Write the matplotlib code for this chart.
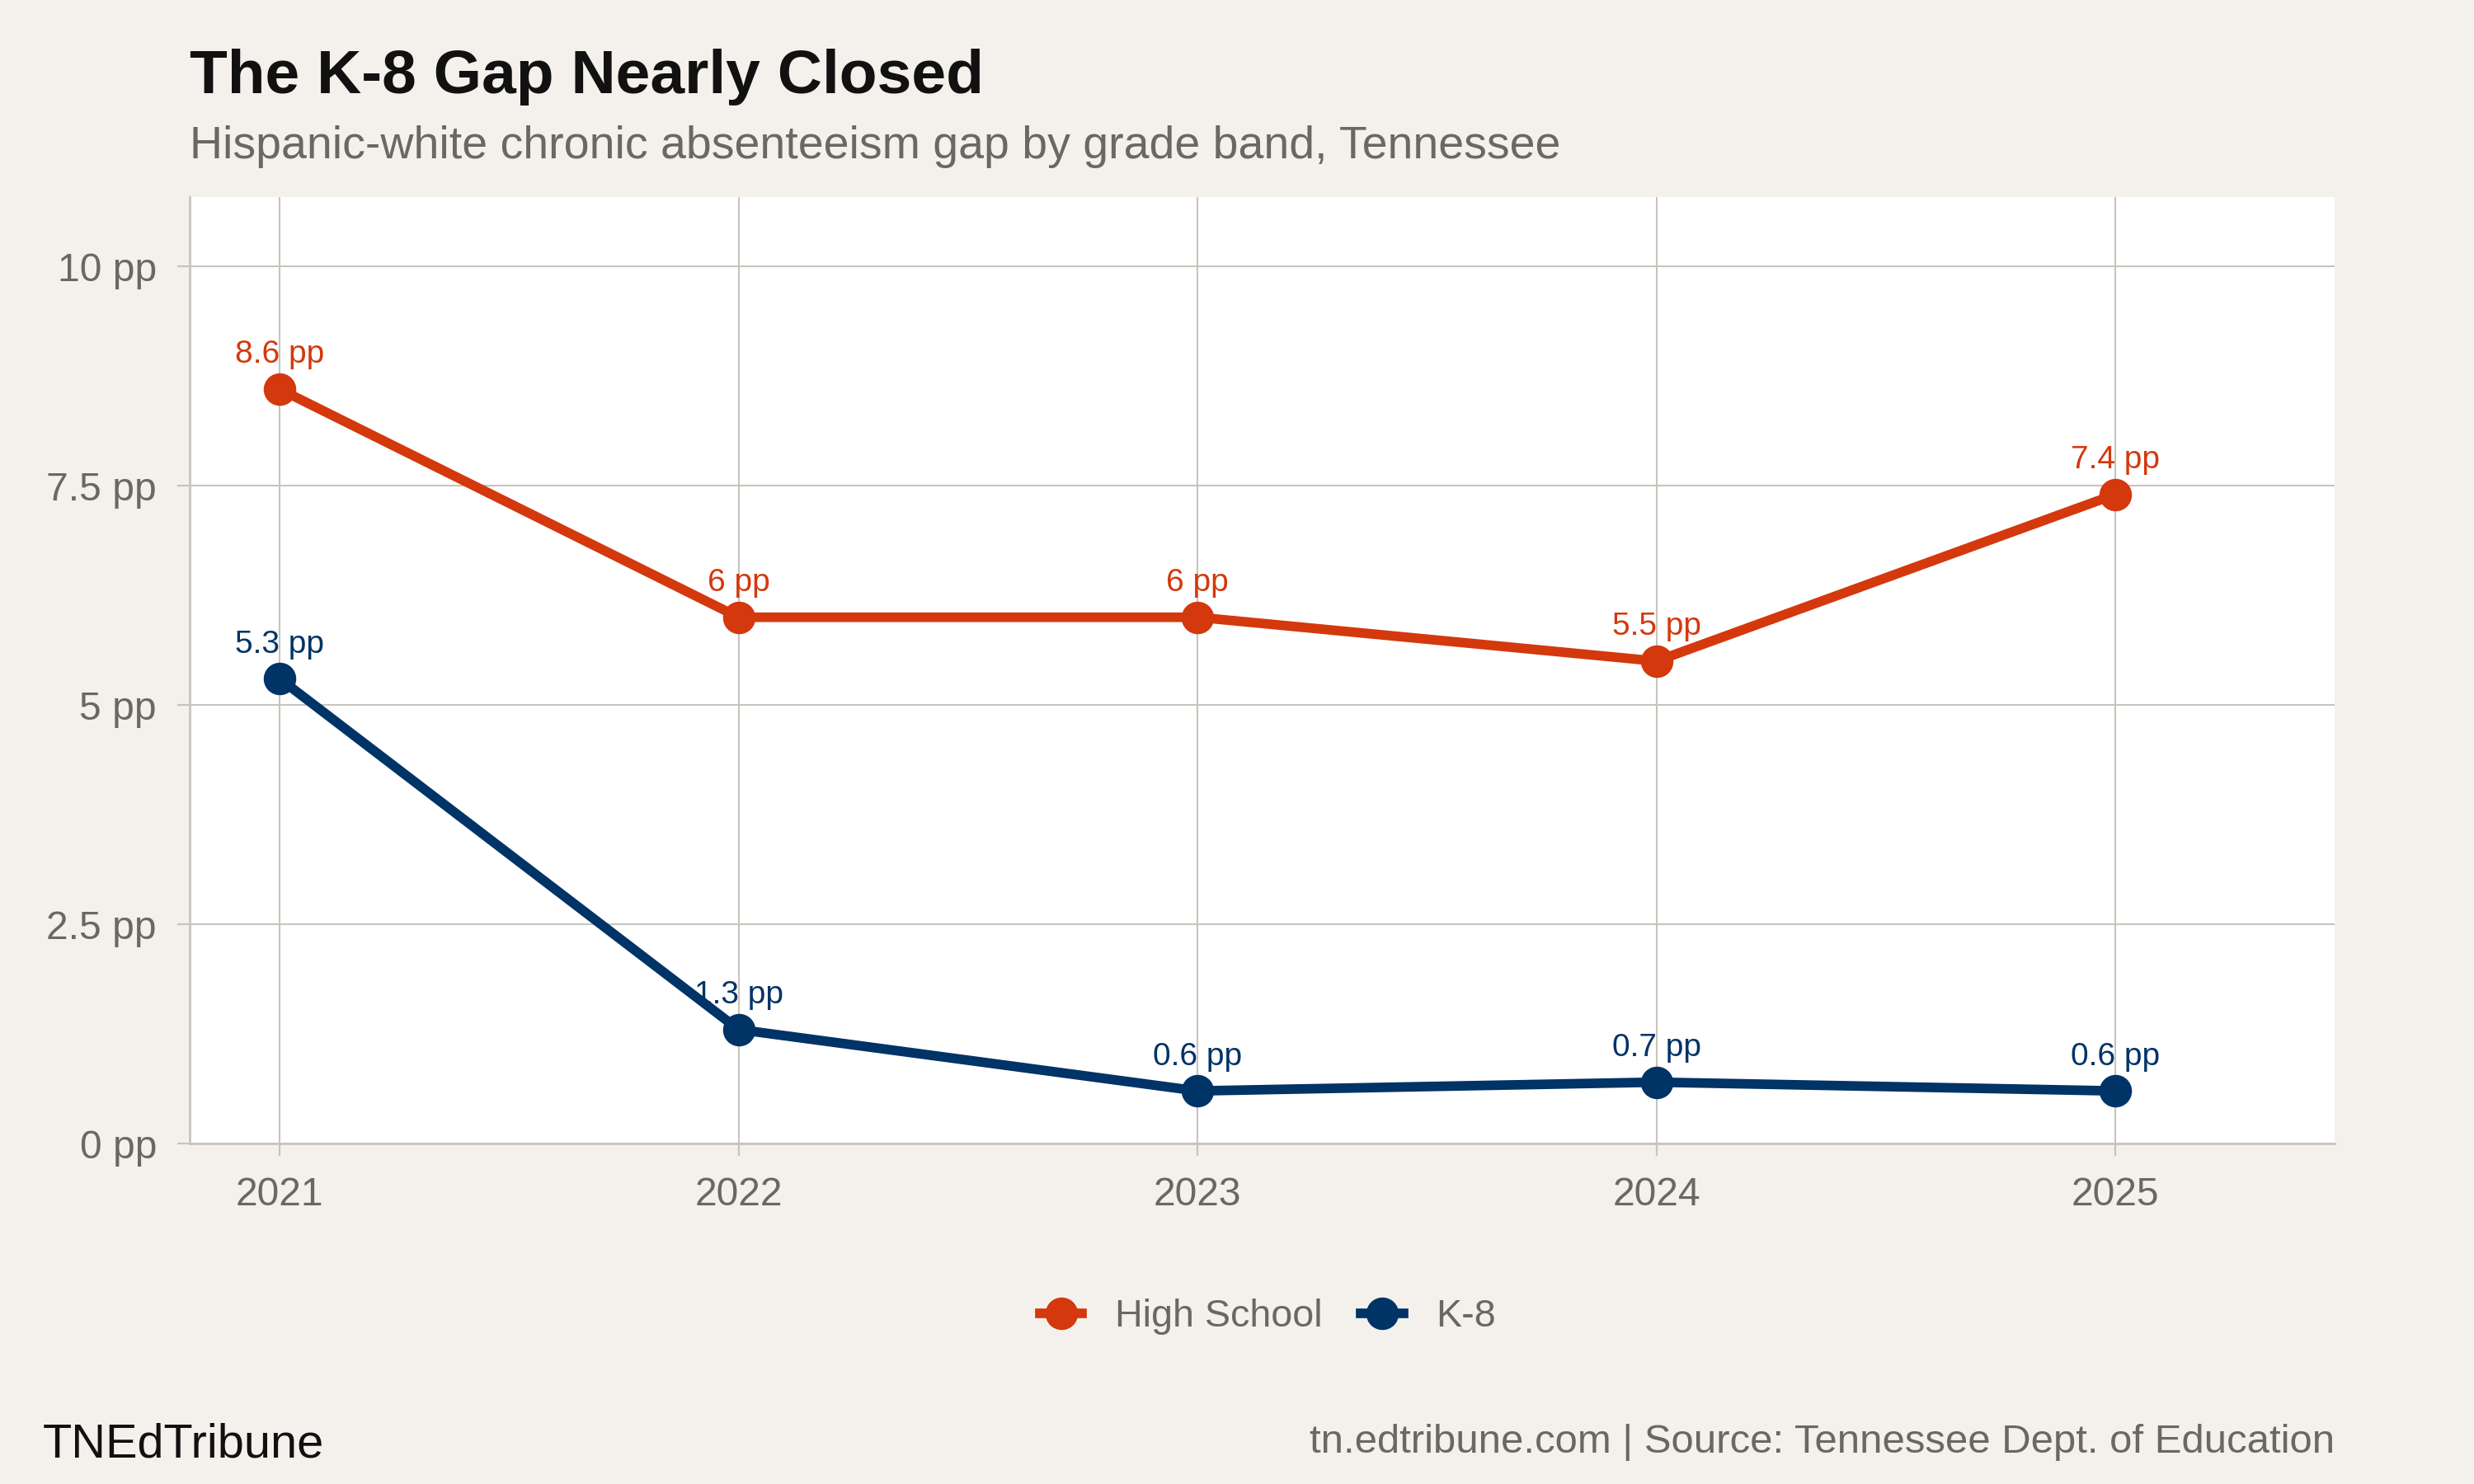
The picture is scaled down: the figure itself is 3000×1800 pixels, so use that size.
# Hispanic-white chronic absenteeism gap by grade band, Tennessee
import matplotlib.pyplot as plt
from matplotlib.lines import Line2D

years = [2021, 2022, 2023, 2024, 2025]
high_school = [8.6, 6.0, 6.0, 5.5, 7.4]
k8 = [5.3, 1.3, 0.6, 0.7, 0.6]
hs_labels = ['8.6 pp', '6 pp', '6 pp', '5.5 pp', '7.4 pp']
k8_labels = ['5.3 pp', '1.3 pp', '0.6 pp', '0.7 pp', '0.6 pp']
y_ticks = [0, 2.5, 5, 7.5, 10]
y_tick_labels = ['0 pp', '2.5 pp', '5 pp', '7.5 pp', '10 pp']

BG = '#F4F1EC'
GRID = '#C9C4BB'
GREY = '#6B6762'
HS_COLOR = '#D4380D'
K8_COLOR = '#003366'

plt.rcParams['font.family'] = ['Liberation Sans', 'DejaVu Sans']

fig = plt.figure(figsize=(15, 9), dpi=200, facecolor=BG)
ax = fig.add_axes([0.0767, 0.2294, 0.867, 0.6378])
ax.set_facecolor('white')

for vals, labels, color in [(high_school, hs_labels, HS_COLOR), (k8, k8_labels, K8_COLOR)]:
    ax.plot(years, vals, color=color, lw=4.2, marker='o', markersize=13.2,
            solid_capstyle='butt', zorder=3)
    for x, y, lab in zip(years, vals, labels):
        ax.annotate(lab, (x, y), xytext=(0, 8.5), textcoords='offset points',
                    ha='center', va='bottom', fontsize=14, color=color, zorder=4)

ax.set_xlim(2020.804, 2025.478)
ax.set_ylim(0, 10.79)
ax.set_xticks(years)
ax.set_xticklabels([str(y) for y in years])
ax.set_yticks(y_ticks)
ax.set_yticklabels(y_tick_labels)

ax.grid(True, color=GRID, lw=0.75, zorder=0)
ax.set_axisbelow(True)
for side in ['top', 'right']:
    ax.spines[side].set_visible(False)
for side in ['left', 'bottom']:
    ax.spines[side].set_color(GRID)
    ax.spines[side].set_linewidth(1.0)
ax.tick_params(axis='both', colors=GRID, length=5.4, width=0.8,
               labelsize=17.3, labelcolor=GREY, pad=9)

fig.text(0.0767, 0.9372, 'The K-8 Gap Nearly Closed', fontsize=27, fontweight='bold',
         color='#111111', ha='left', va='baseline')
fig.text(0.0767, 0.8933, 'Hispanic-white chronic absenteeism gap by grade band, Tennessee',
         fontsize=20, color=GREY, ha='left', va='baseline')

handles = [
    Line2D([], [], color=HS_COLOR, lw=4.2, marker='o', markersize=13.2),
    Line2D([], [], color=K8_COLOR, lw=4.2, marker='o', markersize=13.2),
]
leg = fig.legend(handles, ['High School', 'K-8'], loc='center', bbox_to_anchor=(0.5125, 0.1128),
                 ncol=2, frameon=False, fontsize=16.8, handlelength=1.1,
                 columnspacing=1.0, handletextpad=0.85)
for t in leg.get_texts():
    t.set_color(GREY)

fig.text(0.0173, 0.0183, 'TNEdTribune', fontsize=20.8, color='#111111',
         ha='left', va='baseline')
fig.text(0.9437, 0.0211, 'tn.edtribune.com | Source: Tennessee Dept. of Education',
         fontsize=17.7, color=GREY, ha='right', va='baseline')

plt.savefig('out.png', dpi=200, facecolor=BG)
plt.close()
